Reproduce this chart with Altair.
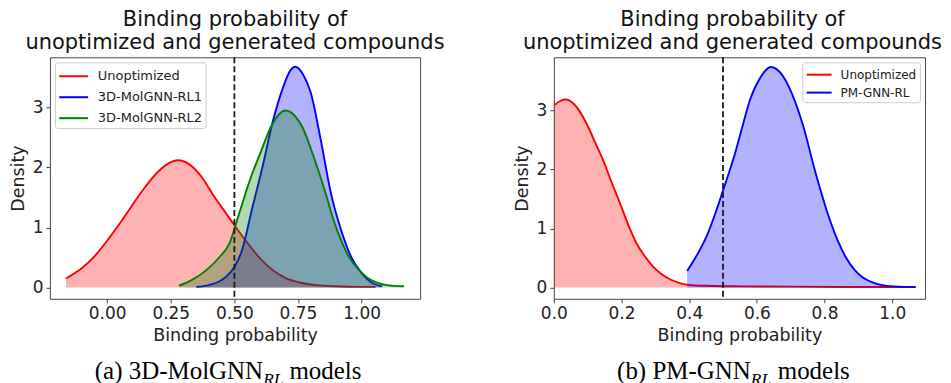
import altair as alt
import pandas as pd

# ---------------- data ----------------
# Panel (a): 3D-MolGNN_RL models
a_names = ["Unoptimized", "3D-MolGNN-RL1", "3D-MolGNN-RL2"]
a_colors = ["#ff0000", "#0000ff", "#008000"]

a_unopt_x = [-0.162, -0.1, -0.05, 0.0, 0.05, 0.10, 0.15, 0.20, 0.25, 0.278, 0.32, 0.37,
             0.42, 0.47, 0.50, 0.55, 0.60, 0.65, 0.70, 0.76, 0.82, 0.90, 0.98, 1.055]
a_unopt_y = [0.15, 0.32, 0.52, 0.78, 1.07, 1.38, 1.68, 1.93, 2.09, 2.12, 2.06, 1.85,
             1.52, 1.22, 1.04, 0.75, 0.49, 0.29, 0.16, 0.08, 0.04, 0.02, 0.01, 0.01]

a_rl1_x = [0.35, 0.40, 0.44, 0.47, 0.50, 0.53, 0.57, 0.61, 0.65, 0.69, 0.72, 0.74, 0.77,
           0.80, 0.84, 0.88, 0.92, 0.96, 1.00, 1.04, 1.081]
a_rl1_y = [0.01, 0.04, 0.10, 0.19, 0.34, 0.62, 1.32, 2.00, 2.75, 3.32, 3.62, 3.68, 3.55,
           3.25, 2.45, 1.56, 0.95, 0.50, 0.24, 0.08, 0.02]

a_rl2_x = [0.282, 0.33, 0.39, 0.44, 0.48, 0.52, 0.56, 0.60, 0.65, 0.70, 0.74, 0.77, 0.80,
           0.83, 0.86, 0.89, 0.92, 0.95, 0.99, 1.02, 1.06, 1.10, 1.166]
a_rl2_y = [0.03, 0.12, 0.29, 0.50, 0.73, 1.25, 1.78, 2.22, 2.73, 2.95, 2.85, 2.65, 2.32,
           1.95, 1.55, 1.12, 0.78, 0.51, 0.29, 0.17, 0.08, 0.04, 0.02]

a_xticks = [0.0, 0.25, 0.5, 0.75, 1.0]

# Panel (b): PM-GNN_RL models
b_names = ["Unoptimized", "PM-GNN-RL"]
b_colors = ["#ff0000", "#0000ff"]

b_unopt_x = [0.0, 0.02, 0.036, 0.06, 0.097, 0.12, 0.146, 0.17, 0.196, 0.22, 0.245, 0.27,
             0.294, 0.32, 0.343, 0.37, 0.392, 0.45, 0.55, 0.70, 0.85, 1.0, 1.07]
b_unopt_y = [3.08, 3.16, 3.18, 3.10, 2.77, 2.48, 2.15, 1.79, 1.42, 1.06, 0.74, 0.52,
             0.35, 0.22, 0.14, 0.08, 0.05, 0.03, 0.02, 0.015, 0.01, 0.01, 0.01]

b_rl_x = [0.394, 0.42, 0.451, 0.48, 0.50, 0.538, 0.56, 0.58, 0.61, 0.641, 0.67, 0.695,
          0.735, 0.774, 0.813, 0.84, 0.862, 0.89, 0.911, 0.94, 0.97, 1.02, 1.068]
b_rl_y = [0.28, 0.52, 0.86, 1.30, 1.64, 2.32, 2.78, 3.18, 3.55, 3.73, 3.63, 3.39,
          2.77, 1.93, 1.19, 0.78, 0.52, 0.29, 0.18, 0.09, 0.04, 0.015, 0.01]

b_xticks = [0.0, 0.2, 0.4, 0.6, 0.8, 1.0]

y_ticks = [0, 1, 2, 3]
threshold = [0.5]

title_lines = ["Binding probability of", "unoptimized and generated compounds"]


def panel(series, names, colors, x_domain, y_domain, x_ticks, x_fmt, width, height,
          legend, caption, caption_pos, title_dx):
    X = alt.X("x:Q", scale=alt.Scale(domain=x_domain, nice=False, zero=False),
              axis=alt.Axis(values=x_ticks, format=x_fmt, title="Binding probability"))
    Y = alt.Y("y:Q", scale=alt.Scale(domain=y_domain, nice=False, zero=False),
              axis=alt.Axis(values=y_ticks, format="d", title="Density"))
    stroke_scale = alt.Scale(domain=names, range=colors)
    layers = []
    for (xs, ys), name, color in zip(series, names, colors):
        df = pd.DataFrame({"x": xs, "y": ys, "series": name})
        layers.append(
            alt.Chart(df).mark_area(interpolate="monotone", fill=color, fillOpacity=0.3,
                                    clip=True)
            .encode(x=X, y=Y, y2=alt.datum(0))
        )
        layers.append(
            alt.Chart(df).mark_line(interpolate="monotone", strokeWidth=1.9, clip=True)
            .encode(x=X, y=Y, stroke=alt.Stroke("series:N", scale=stroke_scale,
                                                 legend=legend))
        )
    layers.append(
        alt.Chart(pd.DataFrame({"x": threshold})).mark_rule(
            color="#1a1a1a", strokeWidth=1.8, strokeDash=[6, 3]
        ).encode(x=X)
    )
    (t1, t2, t3) = caption
    (x1, x2, x3, yb) = caption_pos
    one = alt.Data(values=[{}])
    layers.append(alt.Chart(one).mark_text(text=t1, font="Liberation Serif", fontSize=25,
                                           align="left", baseline="alphabetic",
                                           color="#000000")
                  .encode(x=alt.value(x1), y=alt.value(yb)))
    layers.append(alt.Chart(one).mark_text(text=t2, font="Liberation Serif", fontSize=17.5,
                                           fontStyle="italic", align="left",
                                           baseline="alphabetic", color="#000000")
                  .encode(x=alt.value(x2), y=alt.value(yb + 5.5)))
    layers.append(alt.Chart(one).mark_text(text=t3, font="Liberation Serif", fontSize=25,
                                           align="left", baseline="alphabetic",
                                           color="#000000")
                  .encode(x=alt.value(x3), y=alt.value(yb)))
    return alt.layer(*layers).properties(
        width=width, height=height,
        title=alt.Title(title_lines, anchor="middle", offset=3, lineHeight=23,
                        frame="group", dx=title_dx),
    )


legend_a = alt.Legend(title=None, orient="top-left", offset=5, fillColor="rgba(255,255,255,0.85)",
                      strokeColor="#cccccc", cornerRadius=3, padding=3,
                      labelFont="DejaVu Sans", labelFontSize=13, labelColor="#222222",
                      symbolType="M-1,0H2", symbolSize=372, symbolStrokeWidth=2,
                      labelOffset=18, rowPadding=3)
legend_b = alt.Legend(title=None, orient="top-right", offset=5, fillColor="rgba(255,255,255,0.85)",
                      strokeColor="#cccccc", cornerRadius=3, padding=3.4,
                      labelFont="DejaVu Sans", labelFontSize=12, labelColor="#222222",
                      symbolType="M-1,0H2.125", symbolSize=256, symbolStrokeWidth=2,
                      labelOffset=17, rowPadding=3)

left = panel([(a_unopt_x, a_unopt_y), (a_rl1_x, a_rl1_y), (a_rl2_x, a_rl2_y)],
             a_names, a_colors, [-0.225, 1.23], [-0.188, 3.837], a_xticks, ".2f",
             371, 242, legend_a,
             ("(a) 3D-MolGNN", "RL", "models"), (45, 213.7, 240, 322.5), 0)
right = panel([(b_unopt_x, b_unopt_y), (b_rl_x, b_rl_y)],
              b_names, b_colors, [0.0, 1.097], [-0.19, 3.895], b_xticks, ".1f",
              372, 242, legend_b,
              ("(b) PM-GNN", "RL", "models"), (63.4, 197.4, 224.4, 322.5), -7)

chart = alt.hconcat(left, right, spacing=134, bounds="flush").resolve_scale(
    x="independent", y="independent", stroke="independent"
).properties(
    padding={"left": 0, "top": 0, "right": 0, "bottom": 0}
).configure_view(
    stroke="#444444", strokeWidth=1
).configure_axis(
    grid=False, domain=False, tickColor="#444444", tickSize=4, labelPadding=3,
    labelFlush=False,
    labelFont="DejaVu Sans", labelFontSize=17, labelColor="#222222",
    titleFont="DejaVu Sans", titleFontSize=17.5, titleFontWeight="normal",
    titleColor="#222222", titlePadding=5
).configure_title(
    font="DejaVu Sans", fontSize=21, fontWeight="normal", color="#111111"
)

chart.save("out.html", embed_options={"renderer": "svg", "actions": False})
